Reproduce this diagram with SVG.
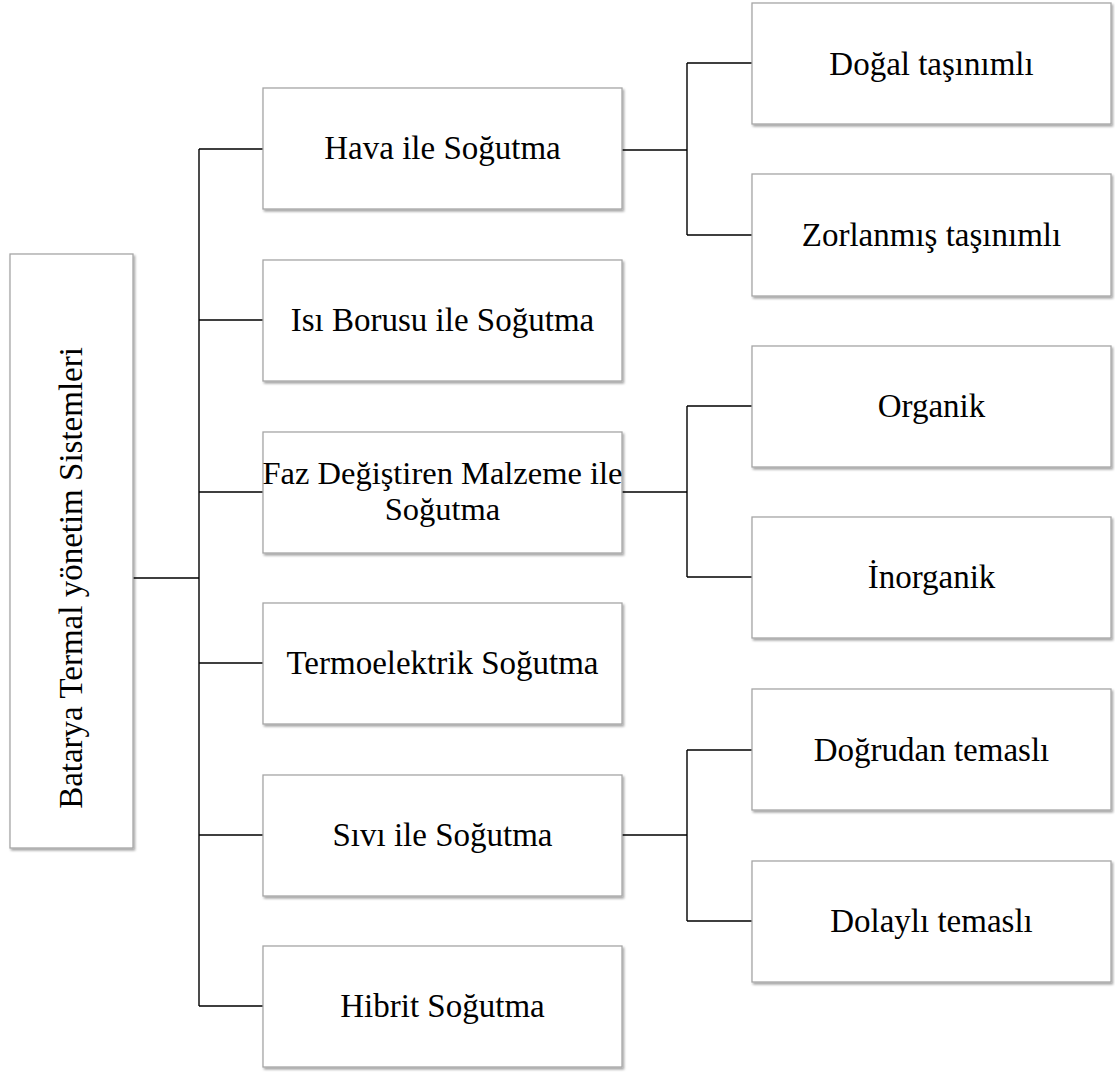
<svg xmlns="http://www.w3.org/2000/svg" width="1115" height="1072" viewBox="0 0 1115 1072">
<defs>
<filter id="sh" x="-5%" y="-5%" width="110%" height="115%">
<feDropShadow dx="1.5" dy="2" stdDeviation="1.2" flood-color="#000" flood-opacity="0.35"/>
</filter>
<style>
.box{fill:#fff;stroke:#a6a6a6;stroke-width:1.3;filter:url(#sh)}
.t{font-family:"Liberation Serif","Times New Roman",serif;font-size:33px;fill:#000;text-anchor:middle}
.f{font-size:32.5px}
.c{fill:none;stroke:#000;stroke-width:1.4}
</style>
</defs>
<rect width="1115" height="1072" fill="#fff"/>
<g id="connectors">
<path class="c" d="M133 578H199M199 149V1006M199 149H263M199 320H263M199 492H263M199 663H263M199 835H263M199 1006H263"/>
<path class="c" d="M622 150H687M687 63V235M687 63H752M687 235H752"/>
<path class="c" d="M622 492H687M687 406V577M687 406H752M687 577H752"/>
<path class="c" d="M622 835H687M687 750V921M687 750H752M687 921H752"/>
</g>
<g id="root"><rect class="box" x="10" y="254" width="123" height="594"/><text class="t" transform="translate(82,578) rotate(-90)">Batarya Termal yönetim Sistemleri</text></g>
<g id="hava"><rect class="box" x="263" y="88" width="359" height="121"/><text class="t" x="442.5" y="159">Hava ile Soğutma</text></g>
<g id="isi"><rect class="box" x="263" y="260" width="359" height="121"/><text class="t" x="442.5" y="331">Isı Borusu ile Soğutma</text></g>
<g id="faz"><rect class="box" x="263" y="432" width="359" height="121"/><text class="t f" x="442.5" y="484">Faz Değiştiren Malzeme ile</text><text class="t f" x="442.5" y="520">Soğutma</text></g>
<g id="termo"><rect class="box" x="263" y="603" width="359" height="121"/><text class="t" x="442.5" y="674">Termoelektrik Soğutma</text></g>
<g id="sivi"><rect class="box" x="263" y="775" width="359" height="121"/><text class="t" x="442.5" y="846">Sıvı ile Soğutma</text></g>
<g id="hibrit"><rect class="box" x="263" y="946" width="359" height="121"/><text class="t" x="442.5" y="1017">Hibrit Soğutma</text></g>
<g id="dogal"><rect class="box" x="752" y="3" width="359" height="121"/><text class="t" x="931.5" y="75">Doğal taşınımlı</text></g>
<g id="zorlanmis"><rect class="box" x="752" y="174" width="359" height="122"/><text class="t" x="931.5" y="246">Zorlanmış taşınımlı</text></g>
<g id="organik"><rect class="box" x="752" y="346" width="359" height="121"/><text class="t" x="931.5" y="417">Organik</text></g>
<g id="inorganik"><rect class="box" x="752" y="517" width="359" height="121"/><text class="t" x="931.5" y="588">İnorganik</text></g>
<g id="dogrudan"><rect class="box" x="752" y="689" width="359" height="121"/><text class="t" x="931.5" y="761">Doğrudan temaslı</text></g>
<g id="dolayli"><rect class="box" x="752" y="861" width="359" height="121"/><text class="t" x="931.5" y="932">Dolaylı temaslı</text></g>
</svg>
